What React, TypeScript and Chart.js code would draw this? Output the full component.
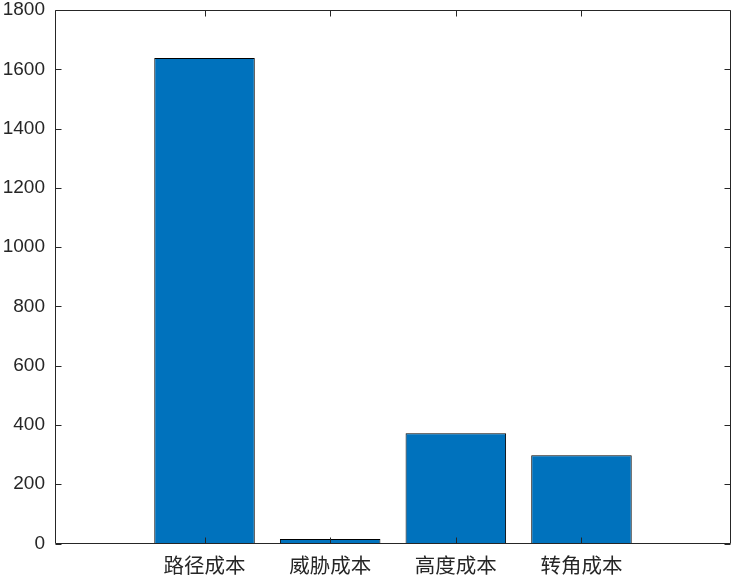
import React, { useEffect, useRef } from "react";
import { Chart, registerables } from "chart.js";

Chart.register(...registerables);

const categories = ["路径成本", "威胁成本", "高度成本", "转角成本"];
const categoryPositions = [1, 2, 3, 4];
const values = [1638, 15, 372, 298];
const yTicks = [0, 200, 400, 600, 800, 1000, 1200, 1400, 1600, 1800];

const AXIS_COLOR = "#262626";
const BAR_COLOR = "#0072BD";

const boxPlugin = {
  id: "matlabBox",
  afterDraw(chart: any) {
    const { ctx, chartArea } = chart;
    const xs = chart.scales.x;
    const ys = chart.scales.y;
    const L = Math.round(chartArea.left) + 0.5;
    const R = Math.round(chartArea.right) - 0.5;
    const T = Math.round(chartArea.top) + 0.5;
    const B = Math.round(chartArea.bottom) - 0.5;
    ctx.save();
    ctx.strokeStyle = AXIS_COLOR;
    ctx.lineWidth = 1;
    ctx.beginPath();
    ctx.rect(L, T, R - L, B - T);
    const tl = 6;
    yTicks.forEach((v) => {
      const y = Math.round(ys.getPixelForValue(v)) + 0.5;
      ctx.moveTo(L, y);
      ctx.lineTo(L + tl, y);
      ctx.moveTo(R, y);
      ctx.lineTo(R - tl, y);
    });
    categoryPositions.forEach((v) => {
      const x = Math.round(xs.getPixelForValue(v)) + 0.5;
      ctx.moveTo(x, B);
      ctx.lineTo(x, B - tl);
      ctx.moveTo(x, T);
      ctx.lineTo(x, T + tl);
    });
    ctx.stroke();
    ctx.restore();
  },
};

export default function App() {
  const ref = useRef<HTMLCanvasElement | null>(null);
  useEffect(() => {
    if (!ref.current) return;
    const chart = new Chart(ref.current, {
      type: "bar",
      data: {
        datasets: [
          {
            data: categoryPositions.map((x, i) => ({ x, y: values[i] })),
            backgroundColor: BAR_COLOR,
            borderColor: "#000000",
            borderWidth: 1,
            barPercentage: 0.8,
            categoryPercentage: 1.0,
          },
        ],
      },
      options: {
        animation: false,
        responsive: false,
        maintainAspectRatio: false,
        devicePixelRatio: 1,
        layout: { padding: { top: 10, right: 3, left: 0, bottom: 0 } },
        plugins: { legend: { display: false }, tooltip: { enabled: false } },
        scales: {
          x: {
            type: "linear",
            offset: false,
            min: -0.19,
            max: 5.19,
            grid: { display: false, drawTicks: false, offset: false },
            border: { display: false },
            afterBuildTicks: (scale: any) => {
              scale.ticks = categoryPositions.map((v) => ({ value: v }));
            },
            afterFit: (scale: any) => {
              scale.height = 35.5;
              scale.paddingLeft = 0;
              scale.paddingRight = 0;
            },
            ticks: {
              autoSkip: false,
              maxRotation: 0,
              padding: 9,
              color: AXIS_COLOR,
              font: { family: "'Noto Sans CJK SC'", size: 20.5 },
              callback: (v: any) => categories[categoryPositions.indexOf(Number(v))] ?? "",
            },
          },
          y: {
            min: 0,
            max: 1800,
            grid: { display: false, drawTicks: false },
            border: { display: false },
            afterBuildTicks: (scale: any) => {
              scale.ticks = yTicks.map((v) => ({ value: v }));
            },
            afterFit: (scale: any) => {
              scale.width = 55;
              scale.paddingTop = 0;
              scale.paddingBottom = 0;
            },
            ticks: {
              padding: 10,
              color: AXIS_COLOR,
              font: { family: "'Liberation Sans', Arial, sans-serif", size: 19 },
              callback: (v: any) => String(v),
            },
          },
        },
      },
      plugins: [boxPlugin],
    });
    return () => chart.destroy();
  }, []);
  return (
    <div style={{ position: "absolute", left: 0, top: 0, width: 734, height: 579, background: "#fff" }}>
      <canvas ref={ref} width={734} height={579} style={{ width: 734, height: 579 }} />
    </div>
  );
}
